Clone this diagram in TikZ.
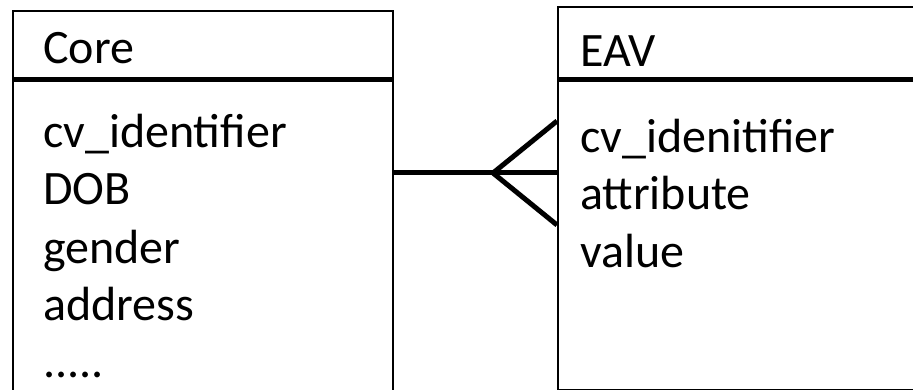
\documentclass[tikz,border=0pt]{standalone}
\usepackage{fontspec}
\setmainfont{Carlito}
\begin{document}
\begin{tikzpicture}[x=1pt,y=-1pt,
  box/.style={draw=black,line width=1.8pt,rectangle,inner sep=0pt,anchor=north west},
  header/.style={line width=5pt},
  conn/.style={line width=5pt},
  lbl/.style={anchor=base west,inner sep=0pt,font=\fontsize{48}{57}\selectfont}]
\useasboundingbox (0,0) rectangle (913,390);
\clip (0,0) rectangle (913,390);
\fill[white] (0,0) rectangle (913,390);
% boxes
\node[box,minimum width=380pt,minimum height=420pt] (core) at (12,10) {};
\node[box,minimum width=420pt,minimum height=383pt] (eav) at (557,6) {};
\draw[header] (core.west |- 0,80) -- (core.east |- 0,80);
\draw[header] (eav.west |- 0,80) -- (eav.east |- 0,80);
% texts
\node[lbl] (coreT) at (43,64) {Core};
\node[lbl] (c1) at (43,148) {cv\_identifier};
\node[lbl] (c2) at (43,205) {DOB};
\node[lbl] (c3) at (43,263) {gender};
\node[lbl] (c4) at (43,320) {address};
\node[lbl] (c5) at (43,377) {.....};
\node[lbl] (eavT) at (580,67) {EAV};
\node[lbl] (e1) at (580,153) {cv\_idenitifier};
\node[lbl] (e2) at (580,210) {attribute};
\node[lbl] (e3) at (580,267) {value};
% connector (crow's foot)
\coordinate (apex) at (493,173);
\draw[conn] (core.east |- apex) -- (apex) -- (eav.west |- apex);
\draw[conn] (eav.west |- 0,121) -- (apex) -- (eav.west |- 0,225);
\end{tikzpicture}
\end{document}
